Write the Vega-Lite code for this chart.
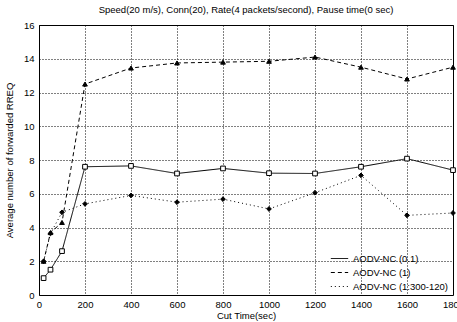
{
  "$schema": "https://vega.github.io/schema/vega-lite/v6.json",
  "width": 414,
  "height": 270,
  "autosize": "none",
  "padding": {"left": 39, "top": 25, "right": 4, "bottom": 27},
  "background": "white",
  "title": {"text": "Speed(20 m/s), Conn(20), Rate(4 packets/second), Pause time(0 sec)", "fontSize": 9.5, "fontWeight": "normal", "font": "Liberation Sans", "color": "black", "offset": 6},
  "config": {
    "view": {"stroke": "black", "strokeWidth": 1},
    "axis": {"labelFont": "Liberation Sans", "titleFont": "Liberation Sans", "labelFontSize": 9.5, "titleFontSize": 9.5, "titleFontWeight": "normal", "labelColor": "black", "titleColor": "black", "gridColor": "black", "gridDash": [1, 2], "gridOpacity": 1, "gridWidth": 1, "domain": false, "ticks": false, "format": "d"},
    "legend": {"labelFont": "Liberation Sans", "labelFontSize": 9.5, "labelColor": "black"}
  },
  "resolve": {"legend": {"strokeDash": "independent", "shape": "independent", "fill": "independent"}},
  "data": {"values": [
    {"t": 20, "v": 1.0, "s": "AODV-NC (0.1)"},
    {"t": 50, "v": 1.5, "s": "AODV-NC (0.1)"},
    {"t": 100, "v": 2.6, "s": "AODV-NC (0.1)"},
    {"t": 200, "v": 7.6, "s": "AODV-NC (0.1)"},
    {"t": 400, "v": 7.65, "s": "AODV-NC (0.1)"},
    {"t": 600, "v": 7.2, "s": "AODV-NC (0.1)"},
    {"t": 800, "v": 7.5, "s": "AODV-NC (0.1)"},
    {"t": 1000, "v": 7.22, "s": "AODV-NC (0.1)"},
    {"t": 1200, "v": 7.2, "s": "AODV-NC (0.1)"},
    {"t": 1400, "v": 7.6, "s": "AODV-NC (0.1)"},
    {"t": 1600, "v": 8.08, "s": "AODV-NC (0.1)"},
    {"t": 1800, "v": 7.4, "s": "AODV-NC (0.1)"},
    {"t": 20, "v": 2.0, "s": "AODV-NC (1)"},
    {"t": 50, "v": 3.7, "s": "AODV-NC (1)"},
    {"t": 100, "v": 4.3, "s": "AODV-NC (1)"},
    {"t": 200, "v": 12.5, "s": "AODV-NC (1)"},
    {"t": 400, "v": 13.45, "s": "AODV-NC (1)"},
    {"t": 600, "v": 13.75, "s": "AODV-NC (1)"},
    {"t": 800, "v": 13.8, "s": "AODV-NC (1)"},
    {"t": 1000, "v": 13.85, "s": "AODV-NC (1)"},
    {"t": 1200, "v": 14.1, "s": "AODV-NC (1)"},
    {"t": 1400, "v": 13.5, "s": "AODV-NC (1)"},
    {"t": 1600, "v": 12.8, "s": "AODV-NC (1)"},
    {"t": 1800, "v": 13.5, "s": "AODV-NC (1)"},
    {"t": 20, "v": 2.0, "s": "AODV-NC (1:300-120)"},
    {"t": 50, "v": 3.65, "s": "AODV-NC (1:300-120)"},
    {"t": 100, "v": 4.9, "s": "AODV-NC (1:300-120)"},
    {"t": 200, "v": 5.4, "s": "AODV-NC (1:300-120)"},
    {"t": 400, "v": 5.9, "s": "AODV-NC (1:300-120)"},
    {"t": 600, "v": 5.5, "s": "AODV-NC (1:300-120)"},
    {"t": 800, "v": 5.68, "s": "AODV-NC (1:300-120)"},
    {"t": 1000, "v": 5.1, "s": "AODV-NC (1:300-120)"},
    {"t": 1200, "v": 6.06, "s": "AODV-NC (1:300-120)"},
    {"t": 1400, "v": 7.09, "s": "AODV-NC (1:300-120)"},
    {"t": 1600, "v": 4.72, "s": "AODV-NC (1:300-120)"},
    {"t": 1800, "v": 4.86, "s": "AODV-NC (1:300-120)"}
  ]},
  "encoding": {
    "x": {"field": "t", "type": "quantitative", "title": "Cut Time(sec)", "scale": {"domain": [0, 1800], "nice": false}, "axis": {"values": [0, 200, 400, 600, 800, 1000, 1200, 1400, 1600, 1800], "labelFlush": false, "labelPadding": 4, "titlePadding": 2}},
    "y": {"field": "v", "type": "quantitative", "title": "Average number of forwarded RREQ", "scale": {"domain": [0, 16], "nice": false}, "axis": {"values": [0, 2, 4, 6, 8, 10, 12, 14, 16], "labelPadding": 5, "titlePadding": 9}}
  },
  "layer": [
    {
      "mark": {"type": "line", "color": "black", "strokeWidth": 1},
      "encoding": {
        "strokeDash": {"field": "s", "type": "nominal", "title": null,
          "scale": {"domain": ["AODV-NC (0.1)", "AODV-NC (1)", "AODV-NC (1:300-120)"], "range": [[1, 0], [4, 3], [1, 3]]},
          "legend": {"orient": "bottom-right", "offset": 4, "symbolType": "stroke", "symbolStrokeColor": "black", "symbolStrokeWidth": 1, "symbolSize": 300, "rowPadding": -4, "labelLimit": 200}}
      }
    },
    {
      "mark": {"type": "point", "filled": true, "stroke": "black", "strokeWidth": 1, "size": 22, "opacity": 1},
      "encoding": {
        "shape": {"field": "s", "type": "nominal", "legend": null,
          "scale": {"domain": ["AODV-NC (0.1)", "AODV-NC (1)", "AODV-NC (1:300-120)"], "range": ["square", "triangle-up", "diamond"]}},
        "fill": {"field": "s", "type": "nominal", "legend": null,
          "scale": {"domain": ["AODV-NC (0.1)", "AODV-NC (1)", "AODV-NC (1:300-120)"], "range": ["white", "black", "black"]}}
      }
    }
  ]
}
